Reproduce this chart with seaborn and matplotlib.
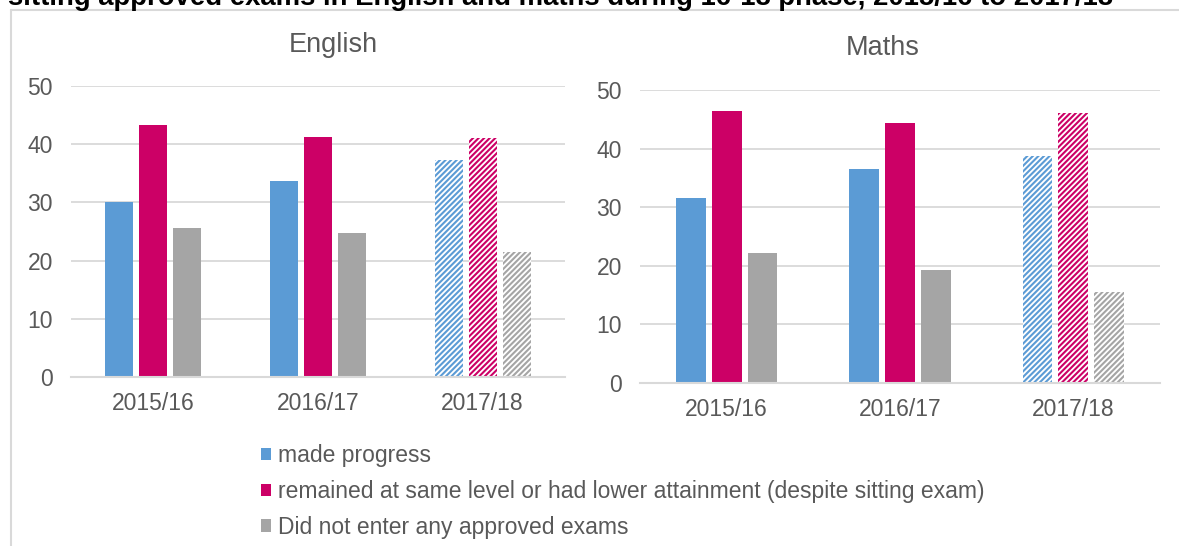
import matplotlib
matplotlib.use("Agg")
import matplotlib.pyplot as plt
import seaborn as sns
import pandas as pd
from matplotlib.patches import Patch
from matplotlib.lines import Line2D

# ---- data ----
years = ["2015/16", "2016/17", "2017/18"]
statuses = ["made progress",
            "remained at same level or had lower attainment (despite sitting exam)",
            "Did not enter any approved exams"]
english_progress = [30.0, 33.7, 37.2]
english_same = [43.3, 41.3, 41.0]
english_none = [25.6, 24.8, 21.5]
maths_progress = [31.5, 36.6, 38.7]
maths_same = [46.4, 44.3, 46.0]
maths_none = [22.1, 19.2, 15.6]
hatched_years = ["2017/18"]
subject_titles = ["English", "Maths"]
chart_title = "sitting approved exams in English and maths during 16-18 phase, 2015/16 to 2017/18"
colors = ["#5B9BD5", "#CC0066", "#A5A5A5"]


def long_df(series):
    rows = []
    for status, vals in zip(statuses, series):
        for y, v in zip(years, vals):
            rows.append({"year": y, "status": status, "value": v})
    return pd.DataFrame(rows)


df_en = long_df([english_progress, english_same, english_none])
df_ma = long_df([maths_progress, maths_same, maths_none])

sns.set_theme(style="white")
plt.rcParams["font.family"] = ["Liberation Sans", "DejaVu Sans"]
plt.rcParams["hatch.linewidth"] = 1.5

W, H = 1179, 546
fig = plt.figure(figsize=(W / 100, H / 100), dpi=100)
fig.patch.set_facecolor("white")

TXT = "#595959"
GRID = "#D9D9D9"

ax_en = fig.add_axes([71 / W, 1 - 377 / H, (565 - 71) / W, (377 - 86) / H])
ax_ma = fig.add_axes([640 / W, 1 - 383 / H, (1160 - 640) / W, (383 - 90) / H])

for ax, df in [(ax_en, df_en), (ax_ma, df_ma)]:
    sns.barplot(data=df, x="year", y="value", hue="status", hue_order=statuses,
                order=years, palette=colors, saturation=1, width=0.62, gap=0.17,
                legend=False, ax=ax, errorbar=None, linewidth=0)
    hidx = [years.index(h) for h in hatched_years]
    for p in ax.patches:
        cx = p.get_x() + p.get_width() / 2
        if any(abs(cx - i) < 0.5 for i in hidx):
            c = p.get_facecolor()
            p.set_facecolor("white")
            p.set_edgecolor(c)
            p.set_linewidth(0)
            p.set_hatch("//////")
    ax.set_ylim(0, 50)
    ax.set_xlim(-0.5, 2.5)
    ax.set_yticks([0, 10, 20, 30, 40, 50])
    ax.yaxis.grid(True, color=GRID, linewidth=1.3)
    ax.set_axisbelow(True)
    for s in ["left", "right", "top"]:
        ax.spines[s].set_visible(False)
    ax.spines["bottom"].set_color(GRID)
    ax.spines["bottom"].set_linewidth(1.5)
    ax.tick_params(axis="both", length=0, labelsize=16.5, labelcolor=TXT)
    ax.tick_params(axis="x", pad=11)
    ax.tick_params(axis="y", pad=13)
    ax.set_xlabel("")
    ax.set_ylabel("")
    ax.set_facecolor("white")

fig.text(333 / W, 1 - 45 / H, subject_titles[0], ha="center", va="center",
         fontsize=19.5, color=TXT)
fig.text(883 / W, 1 - 48 / H, subject_titles[1], ha="center", va="center",
         fontsize=19.5, color=TXT)

# frame
fig.add_artist(Line2D([11 / W, 1.0], [1 - 10 / H, 1 - 10 / H], color=GRID,
                      linewidth=1.5, transform=fig.transFigure))
fig.add_artist(Line2D([11 / W, 11 / W], [0, 1 - 10 / H], color=GRID,
                      linewidth=1.5, transform=fig.transFigure))

# title (cut off at the top edge, as in the reference)
t = fig.text(8 / W, 1 - 5 / H, chart_title, ha="left", va="baseline",
             fontsize=16, fontweight="bold", color="black")
fig.canvas.draw()
bb = t.get_window_extent()
t.set_fontsize(16 * (1112 - 8) / bb.width)

handles = [Patch(facecolor=c, edgecolor="none") for c in colors]
fig.legend(handles, statuses, loc="upper left",
           bbox_to_anchor=(261 / W, 1 - 444 / H), frameon=False,
           fontsize=16.5, labelcolor=TXT, handlelength=0.45, handleheight=0.45,
           handletextpad=0.3, labelspacing=0.56, borderpad=0, borderaxespad=0)

fig.savefig("out.png", dpi=100, facecolor="white")
